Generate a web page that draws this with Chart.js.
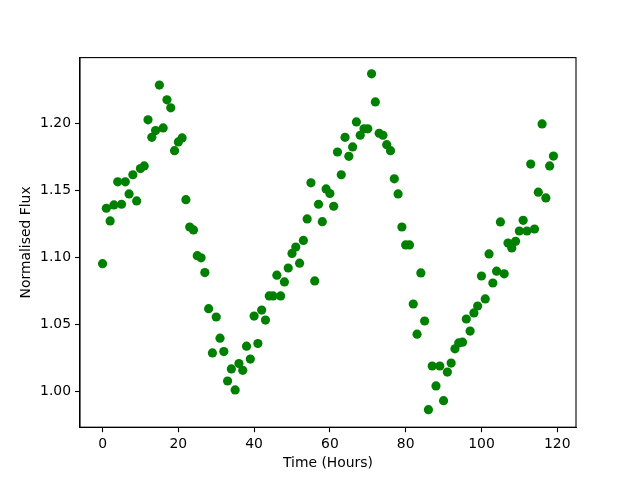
<!DOCTYPE html>
<html>
<head>
<meta charset="utf-8">
<script src="https://cdn.jsdelivr.net/npm/chart.js@4/dist/chart.umd.min.js"></script>
<style>
  body { margin: 0; background: #fff; }
</style>
</head>
<body>
<canvas id="fluxChart" width="640" height="480"></canvas>
<script>
// Light curve data
const hours = [
    0, 1, 2, 3, 4, 5, 6, 7, 8, 9, 10, 11, 12, 13, 14, 15, 16, 17, 18, 19,
    20, 21, 22, 23, 24, 25, 26, 27, 28, 29, 30, 31, 32, 33, 34, 35, 36, 37, 38, 39,
    40, 41, 42, 43, 44, 45, 46, 47, 48, 49, 50, 51, 52, 53, 54, 55, 56, 57, 58, 59,
    60, 61, 62, 63, 64, 65, 66, 67, 68, 69, 70, 71, 72, 73, 74, 75, 76, 77, 78, 79,
    80, 81, 82, 83, 84, 85, 86, 87, 88, 89, 90, 91, 92, 93, 94, 95, 96, 97, 98, 99,
    100, 101, 102, 103, 104, 105, 106, 107, 108, 109, 110, 111, 112, 113, 114, 115, 116, 117, 118, 119
];
const flux = [
    1.0956, 1.137, 1.1275, 1.1395, 1.1567, 1.140, 1.1567, 1.1477, 1.162, 1.1425,
    1.1666, 1.1686, 1.203, 1.190, 1.195, 1.229, 1.197, 1.218, 1.212, 1.180,
    1.1865, 1.1895, 1.1434, 1.123, 1.1208, 1.1016, 1.100, 1.089, 1.062, 1.029,
    1.0558, 1.040, 1.030, 1.008, 1.017, 1.0013, 1.021, 1.016, 1.034, 1.0244,
    1.0565, 1.036, 1.061, 1.0535, 1.0715, 1.0715, 1.087, 1.0715, 1.082, 1.0924,
    1.1033, 1.108, 1.096, 1.113, 1.129, 1.156, 1.0827, 1.140, 1.127, 1.1514,
    1.148, 1.1385, 1.179, 1.162, 1.190, 1.1758, 1.1828, 1.2015, 1.1915, 1.1963,
    1.1963, 1.2374, 1.2164, 1.193, 1.1915, 1.1845, 1.180, 1.159, 1.1477, 1.123,
    1.1096, 1.1096, 1.0655, 1.043, 1.0887, 1.0528, 0.9866, 1.0192, 1.0043, 1.0192,
    0.9933, 1.0147, 1.0214, 1.032, 1.0364, 1.037, 1.0543, 1.0453, 1.0588, 1.064,
    1.0864, 1.0693, 1.1029, 1.0812, 1.090, 1.1268, 1.088, 1.111, 1.1074, 1.1123,
    1.120, 1.128, 1.120, 1.170, 1.1215, 1.149, 1.200, 1.1447, 1.1686, 1.176
];
const xTicks = [0, 20, 40, 60, 80, 100, 120];
const yTicks = [1.00, 1.05, 1.10, 1.15, 1.20];

const fontSpec = { family: 'DejaVu Sans', size: 13.9 };

// draw the top/right spines like matplotlib's frame
const frame = {
    id: 'frame',
    afterDraw(chart) {
        const { ctx, chartArea: a } = chart;
        ctx.save();
        ctx.strokeStyle = '#000';
        ctx.lineWidth = 1.1;
        ctx.strokeRect(a.left, a.top, a.right - a.left, a.bottom - a.top);
        ctx.restore();
    }
};

const ctx = document.getElementById('fluxChart').getContext('2d');
new Chart(ctx, {
    type: 'scatter',
    data: {
        datasets: [{
            data: hours.map((h, i) => ({ x: h, y: flux[i] })),
            backgroundColor: '#008000',
            borderWidth: 0,
            pointRadius: 4.6
        }]
    },
    options: {
        responsive: false,
        animation: false,
        layout: { padding: { left: 0, top: 57.6, right: 64, bottom: 0 } },
        plugins: { legend: { display: false }, tooltip: { enabled: false } },
        scales: {
            x: {
                type: 'linear',
                min: -5.95,
                max: 124.95,
                afterBuildTicks: s => { s.ticks = xTicks.map(v => ({ value: v })); },
                afterFit: s => { s.height = 52.8; },
                grid: { drawOnChartArea: false, drawTicks: true, tickLength: 5, tickColor: '#000', tickWidth: 1.1 },
                border: { color: '#000', width: 1.1 },
                ticks: { color: '#000', font: fontSpec, padding: 4, maxRotation: 0 },
                title: { display: true, text: 'Time (Hours)', color: '#000', font: fontSpec, padding: { top: 0, bottom: 8.7 } }
            },
            y: {
                min: 0.9735,
                max: 1.2495,
                afterBuildTicks: s => { s.ticks = yTicks.map(v => ({ value: v })); },
                afterFit: s => { s.width = 80; },
                grid: { drawOnChartArea: false, drawTicks: true, tickLength: 5, tickColor: '#000', tickWidth: 1.1 },
                border: { color: '#000', width: 1.1 },
                ticks: { color: '#000', font: fontSpec, padding: 4, callback: v => v.toFixed(2) },
                title: { display: true, text: 'Normalised Flux', color: '#000', font: fontSpec, padding: { top: 17.7, bottom: 0 } }
            }
        }
    },
    plugins: [frame]
});
</script>
</body>
</html>
